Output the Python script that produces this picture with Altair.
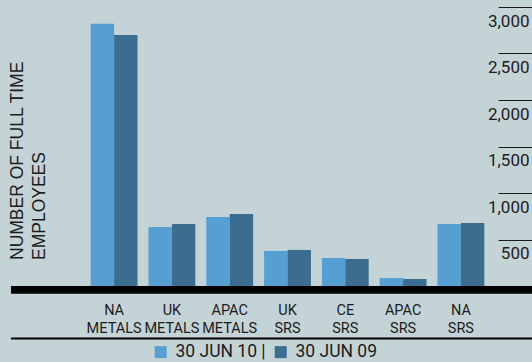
import altair as alt
import pandas as pd

categories = ["NA METALS", "UK METALS", "APAC METALS", "UK SRS", "CE SRS", "APAC SRS", "NA SRS"]
series = ["30 JUN 10", "30 JUN 09"]
jun10 = [2820, 635, 743, 377, 301, 86, 667]
jun09 = [2700, 667, 775, 388, 291, 75, 678]
y_ticks = [500, 1000, 1500, 2000, 2500, 3000]
y_title = ["NUMBER OF FULL TIME", "EMPLOYEES"]

rows = []
for c, a, b in zip(categories, jun10, jun09):
    rows.append({"category": c, "series": series[0], "value": a})
    rows.append({"category": c, "series": series[1], "value": b})
df = pd.DataFrame(rows)

BG = "#C4D3D6"
LIGHT = "#569FD3"
DARK = "#3A6D8F"
INK = "#1c1c1c"

bars = alt.Chart(df).mark_bar().encode(
    x=alt.X("category:N", sort=categories,
            scale=alt.Scale(paddingInner=0.19, paddingOuter=0.237),
            axis=alt.Axis(title=None, domain=False, ticks=False,
                          labelAngle=0, labelFont="Roboto", labelFontSize=14.5,
                          labelColor=INK, labelBaseline="top", labelPadding=17,
                          labelLineHeight=18,
                          labelExpr="split(datum.label, ' ')")),
    xOffset=alt.XOffset("series:N", sort=series,
                        scale=alt.Scale(paddingInner=0, paddingOuter=0)),
    y=alt.Y("value:Q", scale=alt.Scale(domain=[0, 3000], nice=False),
            axis=alt.Axis(orient="right", title=None, domain=False, grid=False,
                          values=y_ticks, format=",.0f", tickSize=34,
                          tickColor=INK, tickWidth=1.2,
                          labelAlign="right", labelPadding=-3,
                          labelBaseline="alphabetic", labelOffset=19,
                          labelFont="Roboto", labelFontSize=17,
                          labelColor=INK, labelOverlap=False)),
    color=alt.Color("series:N", sort=series,
                    scale=alt.Scale(domain=series, range=[LIGHT, DARK]),
                    legend=alt.Legend(title=None, orient="none", legendX=75, legendY=336,
                                      direction="horizontal", symbolType="square",
                                      symbolSize=144, symbolStrokeWidth=0,
                                      labelFont="Roboto", labelFontSize=17.5,
                                      labelColor=INK, labelOffset=6, columnPadding=6,
                                      labelExpr="datum.label == '30 JUN 10' ? '30 JUN 10 |' : datum.label")),
)

one = pd.DataFrame({"k": [0]})

base_rule = alt.Chart(one).mark_rule(color="#000000", strokeWidth=7.7).encode(
    x=alt.value(-66), x2=alt.value(455), y=alt.value(282.8)
)
bottom_rule = alt.Chart(one).mark_rule(color="#000000", strokeWidth=2).encode(
    x=alt.value(-66), x2=alt.value(455), y=alt.value(331.5)
)
title = alt.Chart(one).mark_text(
    text=y_title, angle=270, align="left", baseline="alphabetic",
    font="Liberation Sans", fontSize=17.5, color=INK, lineHeight=22
).encode(x=alt.value(-54), y=alt.value(253))

chart = alt.layer(bars, base_rule, bottom_rule, title).properties(
    width=421, height=279,
    padding={"left": 77, "top": 7, "right": 34, "bottom": 76},
    autosize=alt.AutoSizeParams(type="none"),
    background=BG,
).configure_view(stroke=None)

chart.save("out.html", embed_options={"renderer": "svg", "actions": False})
